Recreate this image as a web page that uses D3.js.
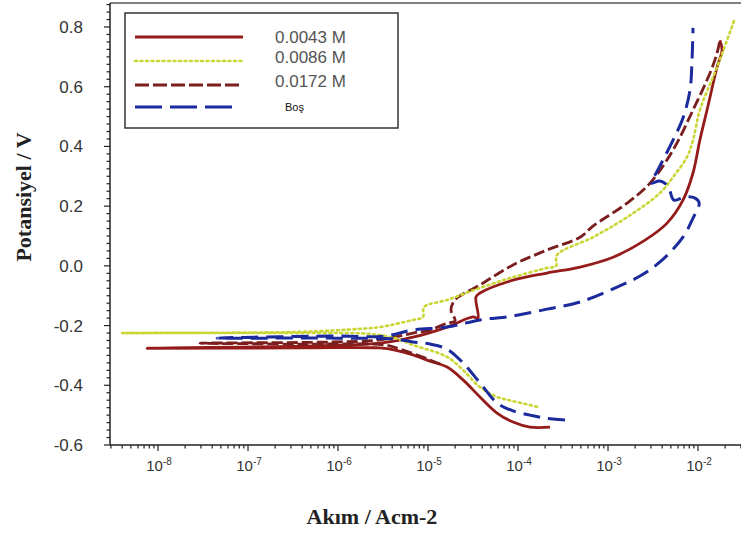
<!DOCTYPE html>
<html>
<head>
<meta charset="utf-8">
<script src="https://cdn.jsdelivr.net/npm/d3@7"></script>
<style>
  html, body { margin: 0; padding: 0; background: #fff; }
  svg { display: block; }
</style>
</head>
<body>
<svg id="chart" width="741" height="538"></svg>
<script>
// ---------------- DATA ----------------
const seriesNames = ["0.0043 M", "0.0086 M", "0.0172 M", "Boş"];

// current density (A/cm2) and potential (V) pairs, in scan order
const current0043 = [2.27e-4, 1.36e-4, 8.80e-5, 5.85e-5, 3.78e-5, 2.45e-5, 1.63e-5, 1.05e-5, 6.81e-6, 4.30e-6, 2.93e-6,
  3.78e-7, 7.55e-9, 3.78e-7, 2.93e-6, 6.81e-6, 1.63e-5, 3.16e-5, 3.59e-5, 3.41e-5, 3.78e-5, 8.80e-5, 2.10e-4, 4.89e-4,
  1.14e-3, 2.58e-3, 4.53e-3, 6.81e-3, 8.80e-3, 1.05e-2, 1.26e-2, 1.63e-2, 1.85e-2, 1.75e-2];
const potential0043 = [-0.540, -0.540, -0.523, -0.493, -0.439, -0.382, -0.339, -0.319, -0.298, -0.282, -0.275,
  -0.275, -0.276, -0.269, -0.259, -0.239, -0.205, -0.171, -0.175, -0.104, -0.091, -0.048, -0.024, -0.004,
  0.029, 0.086, 0.143, 0.220, 0.311, 0.422, 0.522, 0.666, 0.723, 0.756];

const current0086 = [1.63e-4, 8.80e-5, 5.85e-5, 3.78e-5, 2.45e-5, 1.63e-5, 6.81e-6, 4.30e-6, 2.27e-6, 3.78e-7,
  4.0e-9, 3.78e-7, 1.75e-6, 2.93e-6, 6.81e-6, 8.80e-6, 9.03e-6, 1.63e-5, 3.78e-5, 8.80e-5, 2.10e-4, 2.64e-4,
  2.71e-4, 6.81e-4, 1.63e-3, 3.78e-3, 5.28e-3, 7.55e-3, 8.80e-3, 1.05e-2, 1.63e-2, 2.58e-2];
const potential0086 = [-0.472, -0.453, -0.439, -0.406, -0.349, -0.305, -0.265, -0.242, -0.228, -0.225,
  -0.225, -0.221, -0.211, -0.205, -0.181, -0.171, -0.138, -0.114, -0.074, -0.038, -0.007, -0.001,
  0.036, 0.096, 0.163, 0.244, 0.297, 0.365, 0.421, 0.522, 0.666, 0.830];

const current0172 = [1.36e-5, 8.15e-6, 4.89e-6, 3.33e-6, 3.78e-7, 2.93e-8, 8.15e-7, 2.93e-6, 6.81e-6, 1.05e-5,
  1.63e-5, 2.0e-5, 1.80e-5, 2.0e-5, 3.78e-5, 8.80e-5, 2.10e-4, 4.89e-4, 6.81e-4, 1.63e-3, 2.93e-3, 5.28e-3,
  8.80e-3, 1.36e-2, 1.63e-2, 1.75e-2];
const potential0172 = [-0.329, -0.302, -0.279, -0.265, -0.262, -0.259, -0.255, -0.248, -0.225, -0.215,
  -0.192, -0.184, -0.148, -0.114, -0.064, 0.003, 0.053, 0.096, 0.133, 0.210, 0.277, 0.388,
  0.522, 0.646, 0.713, 0.756];

const currentBos = [3.33e-4, 2.0e-4, 1.36e-4, 8.80e-5, 5.85e-5, 3.78e-5, 2.45e-5, 1.63e-5, 1.05e-5, 6.81e-6, 4.30e-6,
  8.15e-7, 4.53e-8, 8.15e-7, 3.33e-6, 6.81e-6, 1.63e-5, 3.78e-5, 8.80e-5, 2.10e-4, 4.89e-4, 1.26e-3, 2.27e-3,
  3.78e-3, 6.81e-3, 8.80e-3, 1.03e-2, 9.27e-3, 7.17e-3, 5.41e-3, 4.64e-3, 3.78e-3, 3.0e-3, 3.33e-3, 4.08e-3,
  5.28e-3, 6.81e-3, 8.15e-3, 8.58e-3, 8.80e-3];
const potentialBos = [-0.516, -0.510, -0.500, -0.486, -0.459, -0.392, -0.325, -0.279, -0.262, -0.255, -0.245,
  -0.242, -0.242, -0.235, -0.235, -0.215, -0.205, -0.181, -0.168, -0.145, -0.121, -0.071, -0.034,
  0.013, 0.096, 0.160, 0.210, 0.227, 0.231, 0.220, 0.267, 0.284, 0.277, 0.304, 0.354,
  0.421, 0.495, 0.589, 0.689, 0.797];

const xTickExponents = [-8, -7, -6, -5, -4, -3, -2];
const yTickValues = [0.8, 0.6, 0.4, 0.2, 0.0, -0.2, -0.4, -0.6];
const yTickLabels = ["0.8", "0.6", "0.4", "0.2", "0.0", "-0.2", "-0.4", "-0.6"];

// ---------------- CHART ----------------
(function () {
const svg = d3.select("#chart");
const pL = 110, pR = 760, pT = 3, pB = 445;

const x = d3.scaleLog()
  .domain([Math.pow(10, -8 - 48 / 90), Math.pow(10, -2 + 62 / 90)])
  .range([pL, pR]);
const y = d3.scaleLinear().domain([-0.6, 0.8]).range([pB, 27]);

const styles = [
  { color: "#951b1b", dash: null, width: 2.8 },
  { color: "#c9d634", dash: "2,3.5", width: 2.6 },
  { color: "#7a1e1e", dash: "11,4", width: 2.8 },
  { color: "#1b2a9c", dash: "17,8", width: 3 }
];

const series = [
  { name: seriesNames[0], i: current0043, e: potential0043, s: styles[0] },
  { name: seriesNames[2], i: current0172, e: potential0172, s: styles[2] },
  { name: seriesNames[1], i: current0086, e: potential0086, s: styles[1] },
  { name: seriesNames[3], i: currentBos, e: potentialBos, s: styles[3] }
];

svg.append("defs").append("clipPath").attr("id", "clip")
  .append("rect").attr("x", pL).attr("y", pT).attr("width", pR - pL).attr("height", pB - pT);

const line = d3.line().curve(d3.curveCatmullRom.alpha(0.5)).x(d => x(d[0])).y(d => y(d[1]));

const g = svg.append("g").attr("clip-path", "url(#clip)");
series.forEach(sr => {
  const pts = sr.i.map((v, k) => [v, sr.e[k]]);
  g.append("path")
    .attr("d", line(pts))
    .attr("fill", "none")
    .attr("stroke", sr.s.color)
    .attr("stroke-width", sr.s.width)
    .attr("stroke-dasharray", sr.s.dash)
    .attr("stroke-linejoin", "round")
    .attr("stroke-linecap", sr.s.dash === "2,3.5" ? "round" : "butt");
});

// top frame line
svg.append("line").attr("x1", pL).attr("x2", 741).attr("y1", pT).attr("y2", pT)
  .attr("stroke", "#555").attr("stroke-width", 1.5);

// X axis
const xAxisG = svg.append("g").attr("transform", `translate(0,${pB})`);
xAxisG.append("line").attr("x1", pL).attr("x2", 741).attr("stroke", "#222").attr("stroke-width", 1.5);
const minorX = [];
for (let e = -9; e <= -1; e++) {
  for (let m = 1; m <= 9; m++) {
    const v = m * Math.pow(10, e);
    if (x(v) >= pL && x(v) <= 741) minorX.push({ v, major: m === 1 });
  }
}
xAxisG.selectAll("line.t").data(minorX).enter().append("line")
  .attr("x1", d => x(d.v)).attr("x2", d => x(d.v))
  .attr("y1", 0).attr("y2", d => d.major ? 6 : 3.5)
  .attr("stroke", "#222").attr("stroke-width", 1.2);
const xl = xAxisG.selectAll("text.xl").data(xTickExponents).enter().append("text")
  .attr("x", d => x(Math.pow(10, d)) + 1)
  .attr("y", 26)
  .attr("text-anchor", "middle")
  .attr("font-family", "Liberation Sans, Arial, sans-serif")
  .attr("font-size", 15)
  .attr("fill", "#333");
xl.append("tspan").text("10");
xl.append("tspan").attr("dy", -6).attr("font-size", 10).text(d => String(d));

// Y axis
const yAxisG = svg.append("g");
yAxisG.append("line").attr("x1", pL).attr("x2", pL).attr("y1", pT).attr("y2", pB)
  .attr("stroke", "#222").attr("stroke-width", 1.5);
const yMinor = d3.range(0, 60).map(k => -0.6 + k * 0.025).filter(v => v <= 0.876);
yAxisG.selectAll("line.ym").data(yMinor).enter().append("line")
  .attr("x1", pL)
  .attr("x2", (d, k) => (k % 8 === 0) ? pL - 6 : pL - 3.5)
  .attr("y1", d => y(d)).attr("y2", d => y(d))
  .attr("stroke", "#222").attr("stroke-width", 1.2);
yAxisG.selectAll("text.yl").data(yTickValues).enter().append("text")
  .attr("x", 83).attr("y", d => y(d) + 6)
  .attr("text-anchor", "end")
  .attr("font-family", "Liberation Sans, Arial, sans-serif")
  .attr("font-size", 17)
  .attr("fill", "#333")
  .text((d, k) => yTickLabels[k]);

// axis titles
svg.append("text")
  .attr("x", 372).attr("y", 524)
  .attr("text-anchor", "middle")
  .attr("font-family", "Liberation Serif, Times New Roman, serif")
  .attr("font-weight", "bold").attr("font-size", 22).attr("fill", "#222")
  .text("Akım / Acm-2");
svg.append("text")
  .attr("transform", "translate(31,197) rotate(-90)")
  .attr("text-anchor", "middle")
  .attr("font-family", "Liberation Serif, Times New Roman, serif")
  .attr("font-weight", "bold").attr("font-size", 22).attr("fill", "#222")
  .text("Potansiyel / V");

// Legend
const lg = svg.append("g");
lg.append("rect").attr("x", 125).attr("y", 13).attr("width", 273).attr("height", 115)
  .attr("fill", "#fff").attr("stroke", "#333").attr("stroke-width", 1.5);
const legendRows = [
  { name: seriesNames[0], s: styles[0], ly: 37, ty: 43, fs: 17, fill: "#555", tx: 275 },
  { name: seriesNames[1], s: styles[1], ly: 61, ty: 63, fs: 17, fill: "#555", tx: 275 },
  { name: seriesNames[2], s: { color: styles[2].color, dash: "14,4", width: 2.8 }, ly: 85, ty: 87, fs: 17, fill: "#555", tx: 275 },
  { name: seriesNames[3], s: { color: styles[3].color, dash: "27,8", width: 3 }, ly: 107, ty: 111, fs: 11, fill: "#111", tx: 285 }
];
legendRows.forEach(r => {
  lg.append("line").attr("x1", 135).attr("x2", r.name === "Boş" ? 232 : 243).attr("y1", r.ly).attr("y2", r.ly)
    .attr("stroke", r.s.color).attr("stroke-width", r.s.width)
    .attr("stroke-dasharray", r.s.dash)
    .attr("stroke-linecap", r.s.dash === "2,3.5" ? "round" : "butt");
  lg.append("text").attr("x", r.tx).attr("y", r.ty)
    .attr("font-family", "Liberation Sans, Arial, sans-serif")
    .attr("font-size", r.fs).attr("fill", r.fill)
    .text(r.name);
});
})();
</script>
</body>
</html>
